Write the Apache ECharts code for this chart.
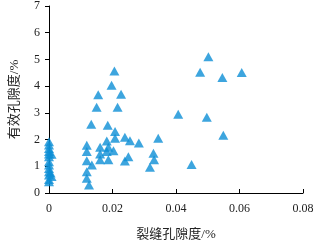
<!DOCTYPE html>
<html>
<head>
<meta charset="utf-8">
<script src="https://cdn.jsdelivr.net/npm/echarts@6/dist/echarts.min.js"></script>
<style>
  html, body { margin: 0; padding: 0; background: #fff; }
  #main { width: 333px; height: 248px; }
</style>
</head>
<body>
<div id="main"></div>
<script>
// 裂缝孔隙度 (%) 与 有效孔隙度 (%)
const fracture = [
  0, 0, 0, 0, 0, 0, 0, 0, 0, 0, 0, 0, 0, 0.0008, 0.0008, 0.0005,
  0.0119, 0.0119, 0.0119, 0.0119, 0.0119, 0.0126, 0.0133, 0.0135, 0.0150, 0.0155,
  0.0161, 0.0161, 0.0161, 0.0182, 0.0182, 0.0185, 0.0187, 0.0187, 0.0197, 0.0203,
  0.0206, 0.0208, 0.0208, 0.0216, 0.0227, 0.0239, 0.0239, 0.0250, 0.0255, 0.0283,
  0.0318, 0.0329, 0.0331, 0.0344, 0.0407, 0.0449, 0.0476, 0.0497, 0.0502, 0.0546,
  0.0549, 0.0607
];
const effective = [
  1.92, 1.80, 1.67, 1.55, 1.46, 1.36, 1.17, 1.05, 0.92, 0.80, 0.67, 0.51, 0.42, 1.45, 0.62, 0.75,
  1.79, 1.55, 1.21, 0.80, 0.55, 0.30, 2.57, 1.05, 3.21, 3.68,
  1.71, 1.46, 1.24, 1.95, 1.55, 2.54, 1.71, 1.24, 4.03, 1.58,
  4.57, 2.30, 2.05, 3.21, 3.70, 2.09, 1.20, 1.36, 1.96, 1.87,
  0.96, 1.49, 1.24, 2.05, 2.95, 1.07, 4.52, 2.84, 5.10, 4.32,
  2.16, 4.51
];
const xTicks = [0, 0.02, 0.04, 0.06, 0.08];
const yTicks = [0, 1, 2, 3, 4, 5, 6, 7];

const points = fracture.map((x, i) => [x, effective[i]]);

const chart = echarts.init(document.getElementById("main"));
const labelFont = "'Liberation Serif', 'Noto Sans CJK SC', serif";
const option = {
  animation: false,
  grid: {
    left: 49,
    top: 6,
    width: 254,
    height: 187,
    containLabel: false,
    outerBoundsMode: "none",
  },
  xAxis: {
    type: "value",
    min: xTicks[0],
    max: xTicks[xTicks.length - 1],
    interval: 0.02,
    name: "裂缝孔隙度/%",
    nameLocation: "middle",
    nameGap: 35,
    nameTextStyle: { color: "#222", fontSize: 13, fontFamily: labelFont },
    axisLine: { show: true, lineStyle: { color: "#000", width: 1 } },
    axisTick: { show: true, inside: true, length: 4, lineStyle: { color: "#000" } },
    splitLine: { show: false },
    axisLabel: {
      color: "#222",
      fontSize: 12,
      fontFamily: labelFont,
      margin: 10,
      formatter: (v) => (v === 0 ? "0" : v.toFixed(2)),
    },
  },
  yAxis: {
    type: "value",
    min: yTicks[0],
    max: yTicks[yTicks.length - 1],
    interval: 1,
    name: "有效孔隙度/%",
    nameLocation: "middle",
    nameGap: 28,
    nameTextStyle: { color: "#222", fontSize: 13, fontFamily: labelFont },
    axisLine: { show: true, lineStyle: { color: "#000", width: 1 } },
    axisTick: { show: true, inside: false, length: 4, lineStyle: { color: "#000" } },
    splitLine: { show: false },
    axisLabel: { color: "#222", fontSize: 12, fontFamily: labelFont, margin: 9 },
  },
  series: [
    {
      type: "scatter",
      symbol: "triangle",
      symbolSize: [10, 9],
      itemStyle: { color: "#0d8fd6" },
      data: points,
    },
  ],
};
chart.setOption(option);
</script>
</body>
</html>
